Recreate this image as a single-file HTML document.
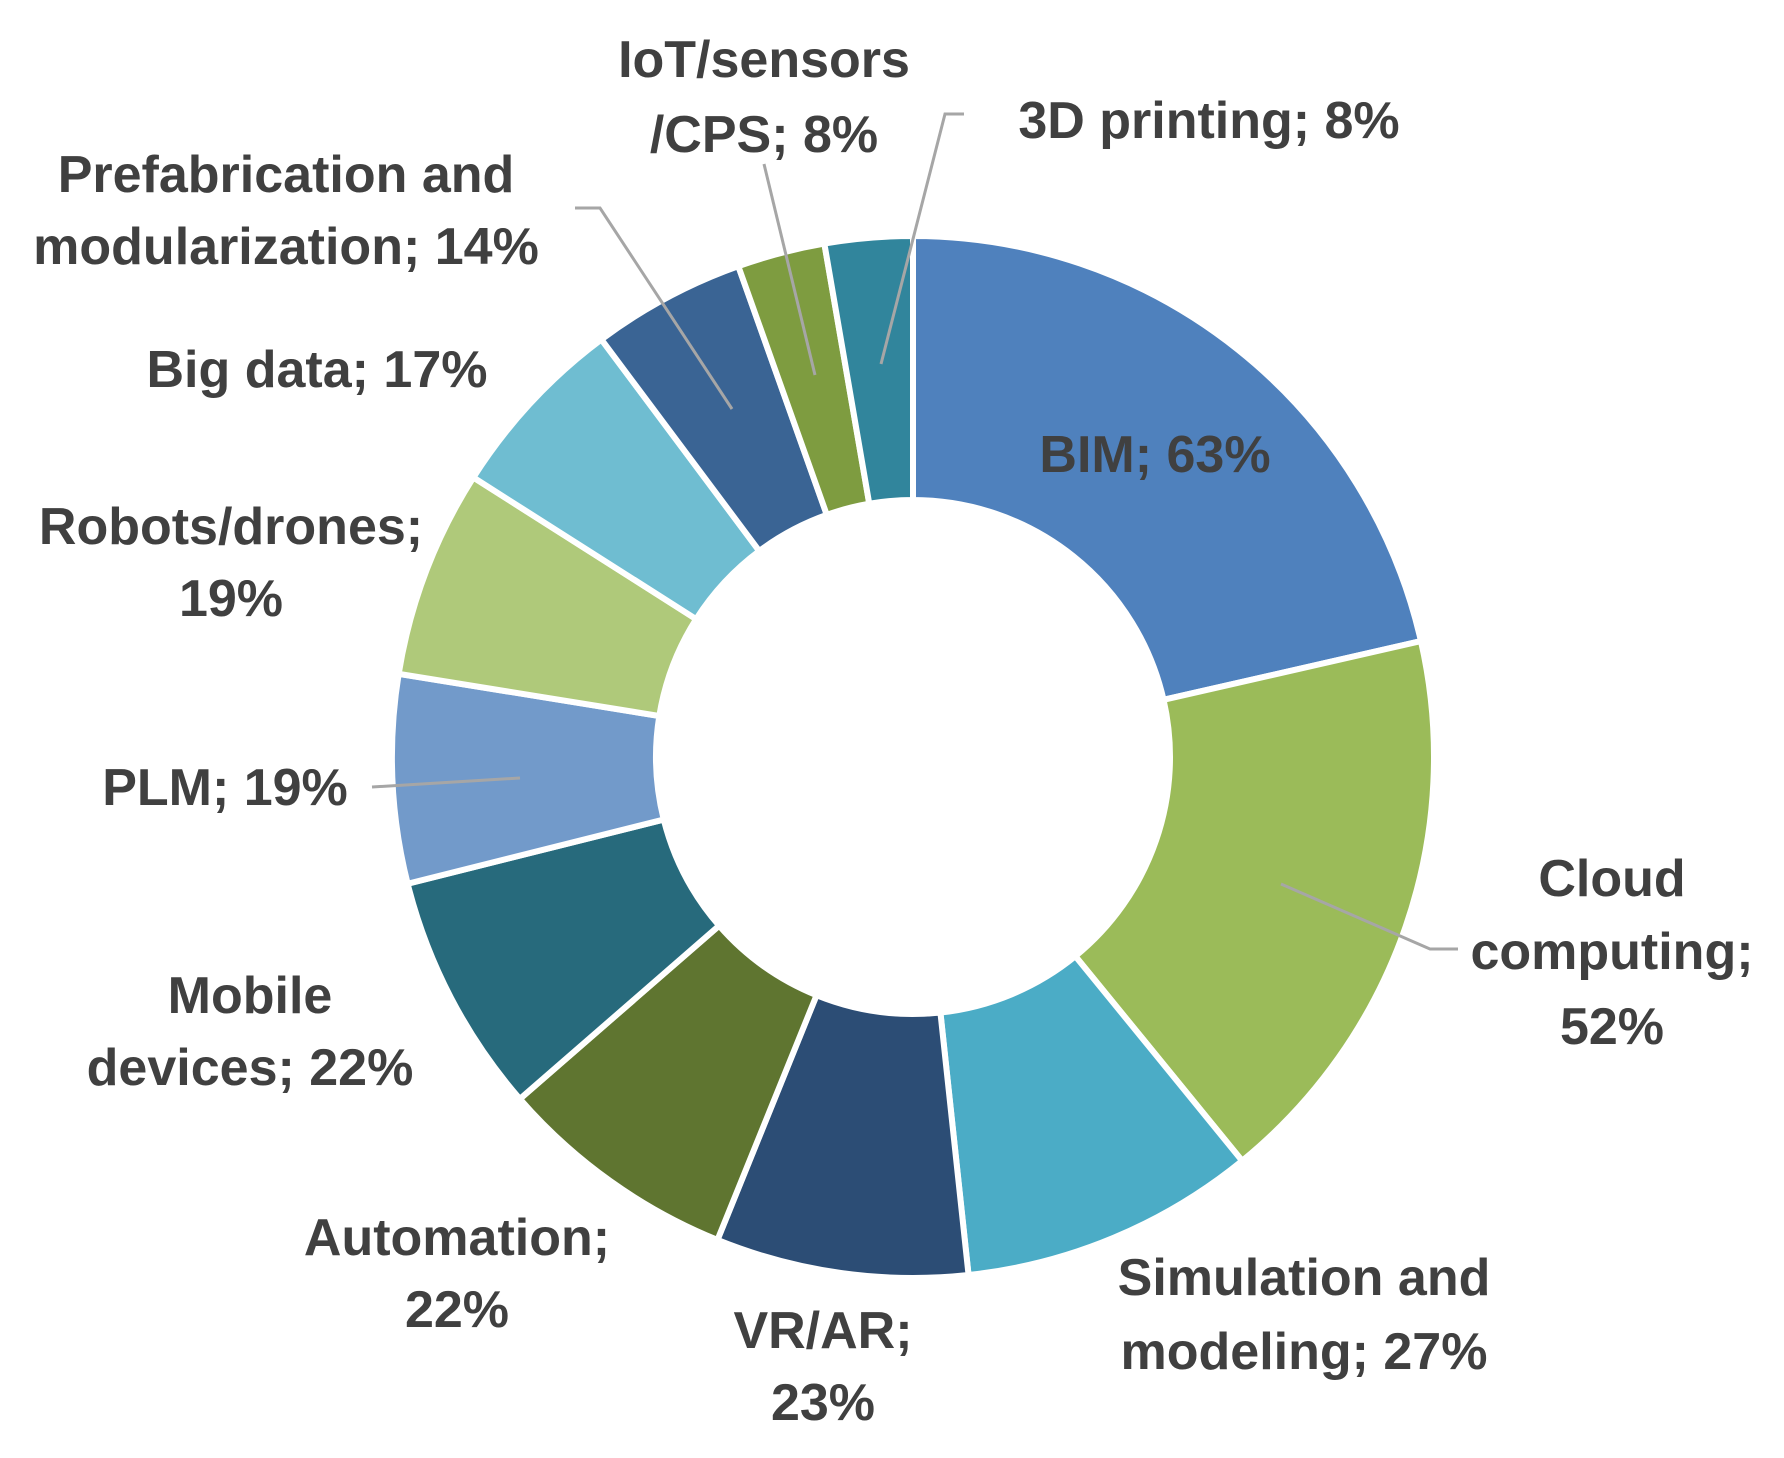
<!DOCTYPE html>
<html><head><meta charset="utf-8"><style>
html,body{margin:0;padding:0;background:#fff}
svg{display:block}
text{font-family:"Liberation Sans",sans-serif;font-weight:bold;font-size:52px;fill:#404040;text-anchor:middle}
</style></head><body>
<svg id="chart" width="1784" height="1458" viewBox="0 0 1784 1458">
<g id="slices"></g>
<g stroke="#a6a6a6" stroke-width="3" fill="none">
<polyline points="964,114 945,114 881,364"/>
<polyline points="764,164 815,375"/>
<polyline points="575,208 600,208 732,409"/>
<polyline points="372,787 520,778"/>
<polyline points="1458,949 1430,949 1281,884"/>
</g>
<g>
<text x="1155" y="472">BIM; 63%</text>
<text x="1209" y="138">3D printing; 8%</text>
<text x="764" y="77">IoT/sensors</text>
<text x="764" y="152">/CPS; 8%</text>
<text x="286" y="192">Prefabrication and</text>
<text x="286" y="264">modularization; 14%</text>
<text x="317" y="387">Big data; 17%</text>
<text x="231" y="544">Robots/drones;</text>
<text x="231" y="616">19%</text>
<text x="225" y="805">PLM; 19%</text>
<text x="250" y="1013">Mobile</text>
<text x="250" y="1085">devices; 22%</text>
<text x="457" y="1255">Automation;</text>
<text x="457" y="1327">22%</text>
<text x="823" y="1348">VR/AR;</text>
<text x="823" y="1420">23%</text>
<text x="1304" y="1295">Simulation and</text>
<text x="1304" y="1369">modeling; 27%</text>
<text x="1612" y="896">Cloud</text>
<text x="1612" y="969">computing;</text>
<text x="1612" y="1044">52%</text>
</g>
</svg>
<script>
const categories = ["BIM","Cloud computing","Simulation and modeling","VR/AR","Automation","Mobile devices","PLM","Robots/drones","Big data","Prefabrication and modularization","IoT/sensors/CPS","3D printing"];
const values = [63,52,27,23,22,22,19,19,17,14,8,8];
const colors = ["#4f81bd","#9bbb59","#4bacc6","#2c4d75","#5f7530","#276a7c","#729aca","#afc97a","#6fbdd1","#3a6494","#7e9c40","#31859c"];
const cx=913, cy=757, R=521, r=257;
const total = values.reduce((a,b)=>a+b,0);
const g=document.getElementById('slices');
function pt(rad,a){return [cx+rad*Math.sin(a), cy-rad*Math.cos(a)];}
let acc=0;
values.forEach((v,i)=>{
  const a0=acc/total*2*Math.PI, a1=(acc+v)/total*2*Math.PI; acc+=v;
  const large=(a1-a0)>Math.PI?1:0;
  const p0=pt(R,a0),p1=pt(R,a1),q1=pt(r,a1),q0=pt(r,a0);
  const p=document.createElementNS('http://www.w3.org/2000/svg','path');
  p.setAttribute('d',`M${p0[0]},${p0[1]} A${R},${R} 0 ${large} 1 ${p1[0]},${p1[1]} L${q1[0]},${q1[1]} A${r},${r} 0 ${large} 0 ${q0[0]},${q0[1]} Z`);
  p.setAttribute('fill',colors[i]);
  p.setAttribute('stroke','#fff');
  p.setAttribute('stroke-width','6');
  
  
  g.appendChild(p);
});
</script>
</body></html>
